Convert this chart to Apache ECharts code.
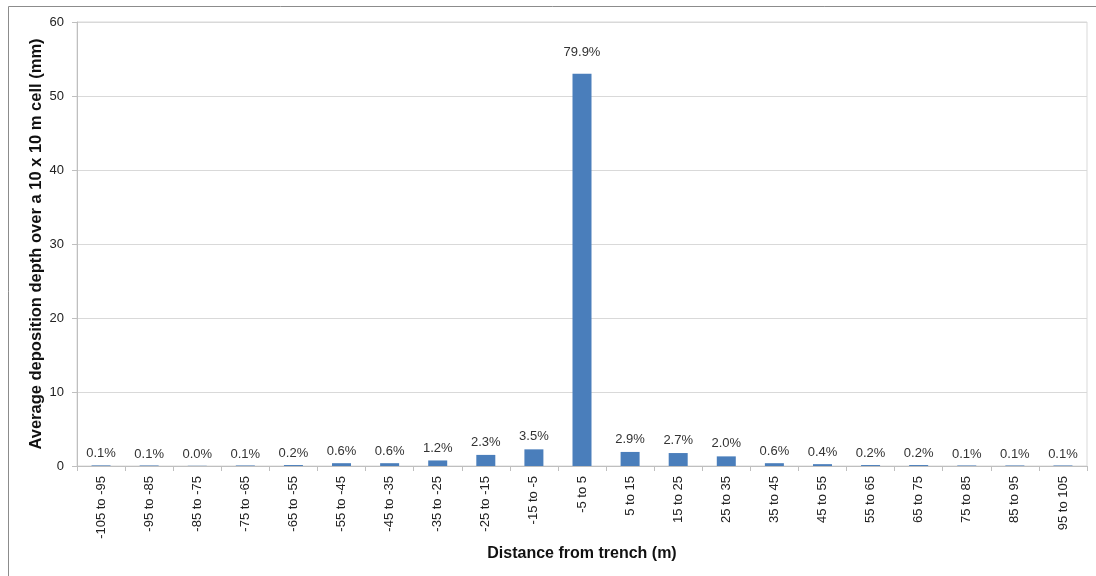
<!DOCTYPE html>
<html>
<head>
<meta charset="utf-8">
<script src="https://cdn.jsdelivr.net/npm/echarts@6/dist/echarts.min.js"></script>
<style>
html,body{margin:0;padding:0;background:#fff;}
#chart{width:1096px;height:576px;}
</style>
</head>
<body>
<div id="chart"></div>
<script>
var categories = ['-105 to -95','-95 to -85','-85 to -75','-75 to -65','-65 to -55','-55 to -45','-45 to -35','-35 to -25','-25 to -15','-15 to -5','-5 to 5','5 to 15','15 to 25','25 to 35','35 to 45','45 to 55','55 to 65','65 to 75','75 to 85','85 to 95','95 to 105'];
var depthValues = [0.08,0.07,0.03,0.07,0.13,0.38,0.38,0.75,1.5,2.25,53.0,1.9,1.75,1.3,0.38,0.25,0.13,0.13,0.07,0.07,0.07];
var percentLabels = ['0.1%','0.1%','0.0%','0.1%','0.2%','0.6%','0.6%','1.2%','2.3%','3.5%','79.9%','2.9%','2.7%','2.0%','0.6%','0.4%','0.2%','0.2%','0.1%','0.1%','0.1%'];
var yTicks = [0,10,20,30,40,50,60];

var seriesData = depthValues.map(function(v, i){
  var d = { value: v, label: { formatter: percentLabels[i] } };
  if (v > 40) d.label.distance = 15;
  else if (v > 0.6) d.label.distance = 6;
  return d;
});

var chart = echarts.init(document.getElementById('chart'));
chart.setOption({
  animation: false,
  backgroundColor: '#fff',
  textStyle: { fontFamily: 'Liberation Sans, Arial, sans-serif' },
  graphic: [{
    type: 'rect', silent: true,
    shape: { x: 8.5, y: 6.5, width: 1200, height: 700 },
    style: { fill: 'none', stroke: '#8c8c8c', lineWidth: 1 }
  }],
  grid: {
    left: 77, right: 9, top: 22, bottom: 110,
    show: true, borderColor: '#d9d9d9', borderWidth: 1
  },
  xAxis: {
    type: 'category',
    data: categories,
    name: 'Distance from trench (m)',
    nameLocation: 'middle',
    nameGap: 80,
    nameMoveOverlap: false,
    nameTextStyle: { fontSize: 16, fontWeight: 'bold', color: '#111' },
    axisLine: { lineStyle: { color: '#bfbfbf' } },
    axisTick: { show: true, alignWithLabel: false, length: 5, lineStyle: { color: '#bfbfbf' } },
    axisLabel: { rotate: 90, fontSize: 13, color: '#222', margin: 10, interval: 0 }
  },
  yAxis: {
    type: 'value',
    min: 0, max: 60, interval: 10,
    name: 'Average deposition depth over a 10 x 10 m cell (mm)',
    nameLocation: 'middle',
    nameGap: 32,
    nameMoveOverlap: false,
    nameTextStyle: { fontSize: 16.5, fontWeight: 'bold', color: '#111' },
    axisLine: { show: true, lineStyle: { color: '#bfbfbf' } },
    axisTick: { show: true, length: 5, lineStyle: { color: '#bfbfbf' } },
    axisLabel: { fontSize: 13, color: '#222', margin: 13,
      formatter: function(v){ return yTicks.indexOf(v) >= 0 ? String(v) : ''; } },
    splitLine: { lineStyle: { color: '#d9d9d9' } }
  },
  series: [{
    type: 'bar',
    data: seriesData,
    barWidth: 19,
    itemStyle: { color: '#4a7ebb' },
    label: { show: true, position: 'top', distance: 5, fontSize: 13, color: '#333' }
  }]
});
</script>
</body>
</html>
